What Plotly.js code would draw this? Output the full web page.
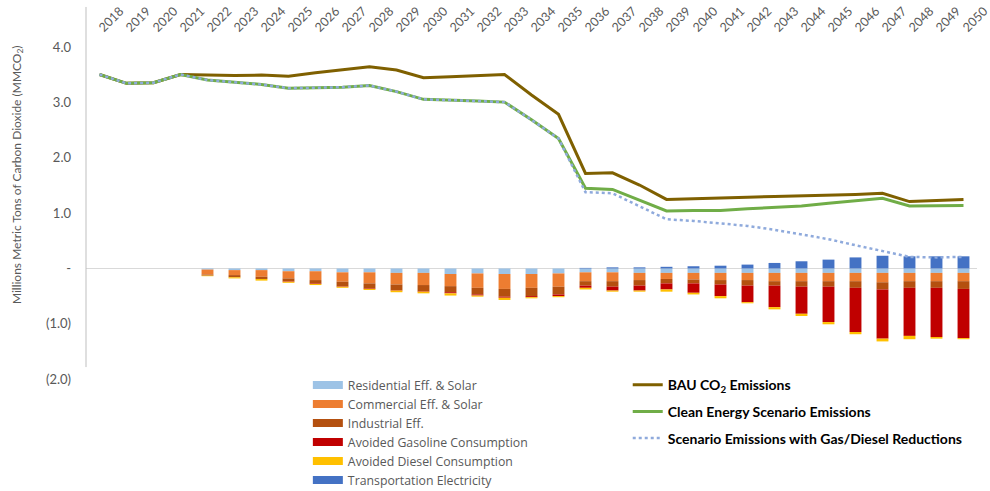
<!DOCTYPE html>
<html>
<head>
<meta charset="utf-8">
<script src="https://cdn.plot.ly/plotly-3.0.1.min.js"></script>
<style>html,body{margin:0;padding:0;background:#fff;}#chart{width:990px;height:491px;}</style>
</head>
<body>
<div id="chart"></div>
<script>
const years = ["2018","2019","2020","2021","2022","2023","2024","2025","2026","2027","2028","2029","2030","2031","2032","2033","2034","2035","2036","2037","2038","2039","2040","2041","2042","2043","2044","2045","2046","2047","2048","2049","2050"];

const bauEmissions = [3.51,3.35,3.36,3.51,3.50,3.49,3.50,3.48,3.54,3.59,3.65,3.59,
  3.45,3.47,3.49,3.51,3.14,2.79,1.72,1.73,1.51,1.25,
  1.26,1.28,1.29,1.30,1.31,1.33,1.34,1.36,1.21,1.23,1.25];
const cleanEmissions = [3.51,3.35,3.36,3.51,3.41,3.37,3.33,3.26,3.27,3.28,3.31,3.20,
  3.06,3.05,3.03,3.01,2.69,2.35,1.45,1.43,1.24,1.04,
  1.05,1.05,1.08,1.10,1.13,1.18,1.23,1.27,1.13,1.14,1.14];
const scenarioEmissions = [3.51,3.35,3.36,3.51,3.41,3.37,3.33,3.26,3.27,3.28,3.31,3.20,
  3.06,3.05,3.03,3.01,2.69,2.35,1.38,1.36,1.12,0.89,
  0.86,0.82,0.77,0.70,0.62,0.53,0.42,0.32,0.21,0.20,0.21];

const residential = [null,null,null,null,-0.02,-0.03,-0.03,-0.05,-0.05,-0.07,-0.07,-0.08,
  -0.08,-0.10,-0.09,-0.10,-0.10,-0.09,-0.07,-0.07,-0.08,-0.08,
  -0.08,-0.08,-0.08,-0.08,-0.08,-0.08,-0.08,-0.08,-0.08,-0.08,-0.08];
const commercial = [null,null,null,null,-0.09,-0.09,-0.12,-0.13,-0.16,-0.17,-0.20,-0.21,
  -0.22,-0.22,-0.26,-0.27,-0.25,-0.24,-0.16,-0.16,-0.13,-0.11,
  -0.12,-0.13,-0.13,-0.15,-0.15,-0.15,-0.15,-0.17,-0.15,-0.15,-0.15];
const industrial = [null,null,null,null,-0.02,-0.04,-0.04,-0.05,-0.06,-0.08,-0.09,-0.10,
  -0.11,-0.11,-0.12,-0.14,-0.15,-0.14,-0.08,-0.10,-0.10,-0.08,
  -0.07,-0.08,-0.10,-0.08,-0.10,-0.10,-0.12,-0.13,-0.12,-0.12,-0.14];
const gasoline = [null,null,null,null,0,0,0,-0.01,-0.01,-0.01,-0.01,-0.01,
  -0.01,-0.02,-0.02,-0.02,-0.02,-0.03,-0.04,-0.07,-0.09,-0.11,
  -0.17,-0.21,-0.30,-0.39,-0.49,-0.64,-0.80,-0.89,-0.87,-0.89,-0.89];
const diesel = [null,null,null,null,-0.01,-0.02,-0.03,-0.02,-0.02,-0.02,-0.02,-0.03,
  -0.03,-0.04,-0.02,-0.04,-0.02,-0.02,-0.03,-0.02,-0.02,-0.04,
  -0.03,-0.04,-0.02,-0.04,-0.04,-0.04,-0.04,-0.05,-0.06,-0.03,-0.02];
const transportation = [null,null,null,null,0,0,0,0,0,0,0,0,
  0,0,0,0,0,0,0.01,0.02,0.02,0.03,
  0.04,0.05,0.07,0.10,0.13,0.16,0.20,0.23,0.22,0.22,0.22];

const yTickVals = [4,3,2,1,0,-1,-2];
const yTickText = ["4.0","3.0","2.0","1.0","-","(1.0)","(2.0)"];

const barSeries = [
  {name:"Residential Eff. & Solar", y:residential, color:"#9DC3E6"},
  {name:"Commercial Eff. & Solar", y:commercial, color:"#ED7D31"},
  {name:"Industrial Eff.", y:industrial, color:"#B4500F"},
  {name:"Avoided Gasoline Consumption", y:gasoline, color:"#C00000"},
  {name:"Avoided Diesel Consumption", y:diesel, color:"#FFC000"},
  {name:"Transportation Electricity", y:transportation, color:"#4472C4"}
];

const FONT = "Lato, 'Open Sans', 'Liberation Sans', sans-serif";
const LEGFONT = "'Open Sans', Lato, sans-serif";
const traces = [];
barSeries.forEach(s => {
  traces.push({type:"bar", x:years, y:s.y, name:s.name, marker:{color:s.color, line:{width:0}},
    showlegend:false, hoverinfo:"x+y+name"});
});
// legend entries (wide swatches)
barSeries.forEach(s => {
  traces.push({type:"scatter", mode:"lines", x:[years[0]], y:[null], name:s.name,
    line:{color:s.color, width:8}, legend:"legend", showlegend:true, hoverinfo:"skip"});
});
traces.push({type:"scatter", mode:"lines", x:years, y:bauEmissions, name:"BAU CO<sub>2</sub> Emissions",
  line:{color:"#7F6000", width:3}, legend:"legend2", legendgroup:"a"});
traces.push({type:"scatter", mode:"lines", x:years, y:cleanEmissions, name:"Clean Energy Scenario Emissions",
  line:{color:"#70AD47", width:3}, legend:"legend2", legendgroup:"b"});
traces.push({type:"scatter", mode:"lines", x:years, y:scenarioEmissions, name:"Scenario Emissions with Gas/Diesel Reductions",
  line:{color:"#8FAADC", width:2.5, dash:"dot"}, legend:"legend2", legendgroup:"c"});

const layout = {
  width:990, height:491,
  margin:{l:86, r:13, t:38, b:112, autoexpand:false},
  paper_bgcolor:"#ffffff", plot_bgcolor:"#ffffff",
  font:{family:FONT, color:"#595959", size:12},
  barmode:"relative", bargap:0.56,
  xaxis:{type:"category", side:"top", range:[-0.5,32.5], tickangle:-45, showgrid:false,
    showline:false, zeroline:false, ticks:"", automargin:false,
    tickfont:{size:12.5, color:"#595959", family:FONT}},
  yaxis:{range:[-2,4.17], tickvals:yTickVals, ticktext:yTickText, showgrid:false, showline:false,
    zeroline:true, zerolinecolor:"#d9d9d9", zerolinewidth:1, ticks:"", ticklabelstandoff:14, automargin:false,
    tickfont:{size:13, color:"#595959", family:FONT}},
  shapes:[{type:"line", xref:"paper", yref:"paper", x0:0, x1:0, y0:0.035, y1:1.091,
    line:{color:"#bfbfbf", width:1}}],
  annotations:[{text:"Millions Metric Tons of Carbon Dioxide (MMCO<sub>2</sub>)", xref:"paper", yref:"paper",
    x:-0.0774, y:0.598, xanchor:"center", yanchor:"middle", textangle:-90, showarrow:false,
    font:{size:12, color:"#595959", family:FONT}}],
  legend:{x:0.249, y:0.025, xanchor:"left", yanchor:"top", bgcolor:"rgba(0,0,0,0)",
    font:{size:12.3, color:"#595959", family:LEGFONT}, traceorder:"normal", itemwidth:30},
  legend2:{x:0.608, y:0.029, xanchor:"left", yanchor:"top", bgcolor:"rgba(0,0,0,0)",
    font:{size:14, color:"#000000", family:FONT, weight:"bold"},
    traceorder:"grouped", tracegroupgap:5.5, itemwidth:30},
  showlegend:true
};

Plotly.newPlot("chart", traces, layout, {displayModeBar:false, staticPlot:true});
</script>
</body>
</html>
